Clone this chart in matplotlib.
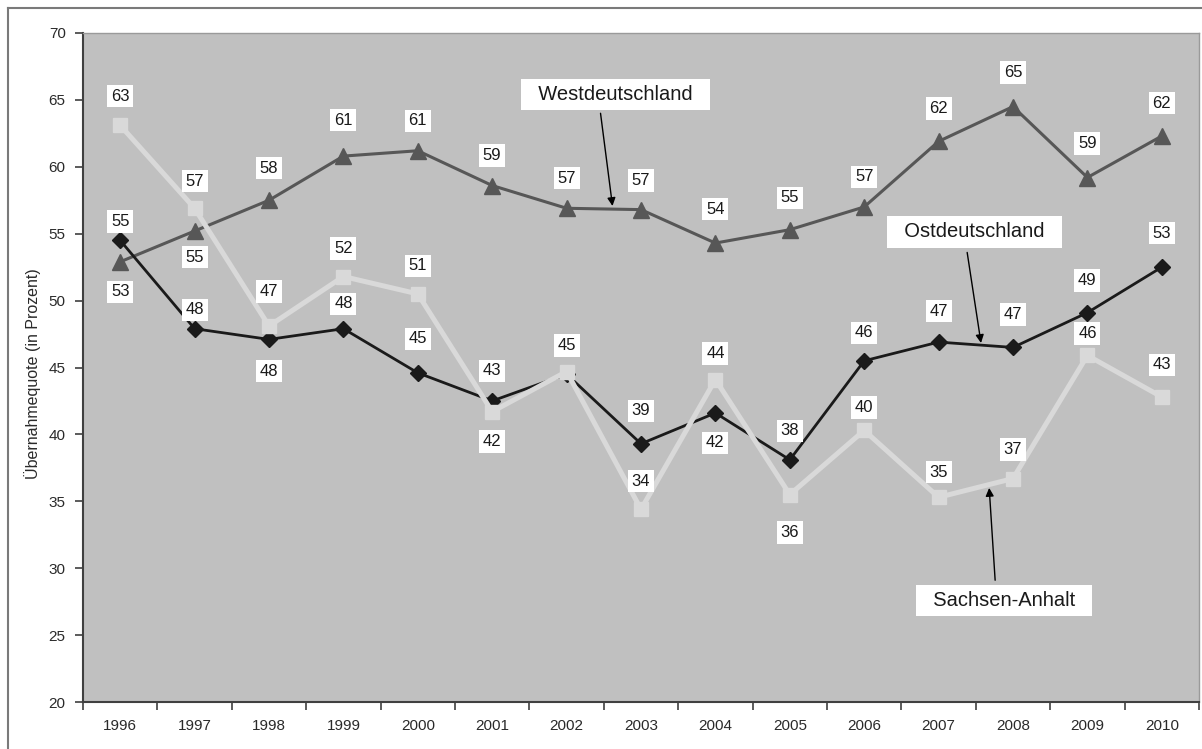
import numpy as np
import matplotlib
matplotlib.use("Agg")
import matplotlib.pyplot as plt
from matplotlib.lines import Line2D
from matplotlib.ticker import FixedLocator

plt.rcParams["font.family"] = ["Liberation Sans", "DejaVu Sans"]

years = [str(y) for y in range(1996, 2011)]
west = [52.9, 55.2, 57.5, 60.8, 61.2, 58.6, 56.9, 56.8, 54.3, 55.3, 57.0, 61.9, 64.5, 59.2, 62.3]
ost = [54.5, 47.9, 47.1, 47.9, 44.6, 42.5, 44.5, 39.3, 41.6, 38.1, 45.5, 46.9, 46.5, 49.1, 52.5]
sachsen = [63.1, 56.9, 48.1, 51.8, 50.5, 41.7, 44.7, 34.4, 44.1, 35.5, 40.3, 35.3, 36.7, 45.9, 42.8]

# vertical label offsets in pixels (positive = above the point, None = no label)
west_dy = [-30, -26, 32, 36, 30, 30, 30, 29, 34, 32, 30, 33, 34, 34, 33]
ost_dy = [19, 19, 48, 25, 34, 30, None, 33, -30, 29, 28, 31, 33, 32, 34]
sachsen_dy = [29, 27, -45, 28, 28, -30, 26, 28, 26, -38, 23, 25, 29, 22, 32]

W, H = 1202, 749
fig = plt.figure(figsize=(W / 100, H / 100), dpi=100)
fig.patch.set_facecolor("white")
ax = fig.add_axes([83 / W, 1 - 702 / H, (1199 - 83) / W, (702 - 33) / H])
ax.set_facecolor("#c0c0c0")

x = np.arange(len(years))
ax.plot(x, west, color="#575757", lw=2.2, marker="^", ms=11, zorder=3)
ax.plot(x, ost, color="#1a1a1a", lw=2.0, marker="D", ms=8, zorder=4)
ax.plot(x, sachsen, color="#d9d9d9", lw=3.6, marker="s", ms=10, zorder=5)


def label_series(values, offsets):
    for i, (v, dy) in enumerate(zip(values, offsets)):
        if dy is None:
            continue
        ax.annotate(str(int(np.floor(v + 0.5))), xy=(i, v), xytext=(0, dy),
                    textcoords="offset pixels", ha="center", va="center",
                    fontsize=12, color="#1a1a1a", zorder=10,
                    bbox=dict(boxstyle="square,pad=0.22", fc="white", ec="none"))


label_series(west, west_dy)
label_series(ost, ost_dy)
label_series(sachsen, sachsen_dy)

# series names with pointer arrows
callouts = [
    ("Westdeutschland", (6.66, 65.37), (6.456, 64.0), (6.617, 57.07)),
    ("Ostdeutschland", (11.48, 55.13), (11.384, 53.6), (11.57, 46.83)),
    ("Sachsen-Anhalt", (11.88, 27.62), (11.76, 29.1), (11.68, 36.0)),
]
for name, center, start, tip in callouts:
    ax.annotate("", xy=tip, xytext=start, zorder=8,
                arrowprops=dict(arrowstyle="-|>", color="black", lw=1.0,
                                mutation_scale=12, shrinkA=0, shrinkB=0))
    ax.text(center[0], center[1], "  " + name + "  ", ha="center", va="center",
            fontsize=14.5, color="#1a1a1a", zorder=9,
            bbox=dict(boxstyle="square,pad=0.3", fc="white", ec="none"))

ax.set_xlim(-0.5, len(years) - 0.5)
ax.set_ylim(20, 70)
ax.set_yticks(np.arange(20, 71, 5))
ax.set_xticks(x)
ax.set_xticklabels(years)
ax.xaxis.set_minor_locator(FixedLocator(np.arange(-0.5, len(years), 1.0)))
ax.tick_params(axis="x", which="major", length=0, pad=12, labelsize=11, labelcolor="#2a2a2a")
ax.tick_params(axis="x", which="minor", length=6, width=1.2, color="#404040", direction="out")
ax.tick_params(axis="y", length=6, width=1.2, color="#404040", pad=6.5, labelsize=11,
               labelcolor="#2a2a2a", direction="out")

for side in ("left", "bottom"):
    ax.spines[side].set_color("#404040")
    ax.spines[side].set_linewidth(1.5)
for side in ("top", "right"):
    ax.spines[side].set_color("#9a9a9a")
    ax.spines[side].set_linewidth(1.0)

fig.text(33 / W, 1 - 374 / H, "Übernahmequote (in Prozent)", rotation=90,
         ha="center", va="center", fontsize=11.5, color="#2a2a2a")

# outer frame (top and left edges)
fig.add_artist(Line2D([8 / W, 1], [1 - 8 / H, 1 - 8 / H], transform=fig.transFigure,
                      color="#7a7a7a", lw=1.5))
fig.add_artist(Line2D([8 / W, 8 / W], [0, 1 - 8 / H], transform=fig.transFigure,
                      color="#7a7a7a", lw=1.5))

fig.savefig("out.png", dpi=100, facecolor="white")
